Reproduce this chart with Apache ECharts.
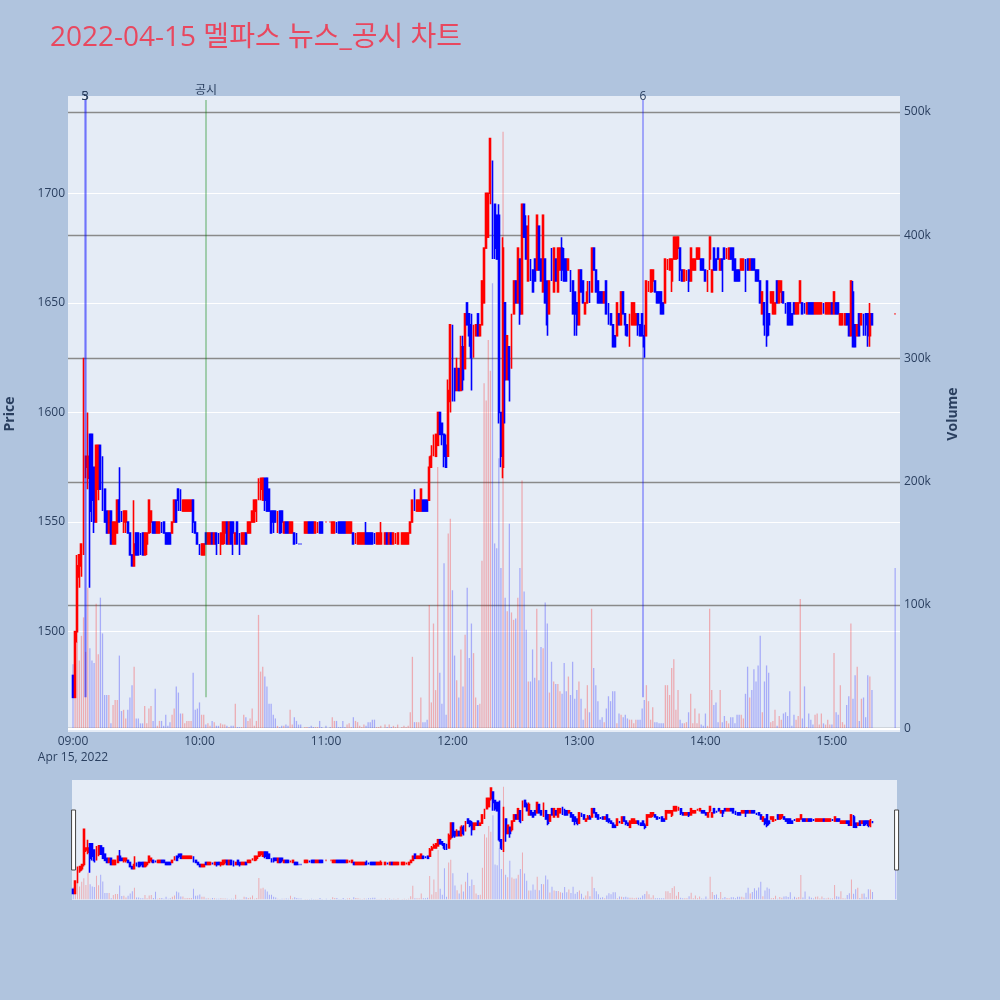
<!DOCTYPE html>
<html>
<head>
<meta charset="utf-8">
<script src="https://cdn.jsdelivr.net/npm/echarts@6/dist/echarts.min.js"></script>
<style>
  html, body { margin: 0; padding: 0; background: #b0c4de; }
  #chart { width: 1000px; height: 1000px; }
</style>
</head>
<body>
<div id="chart"></div>
<script>
// 1분봉 [09:00 기준 분, 시가, 종가, 저가, 고가, 거래량(천주)]
var bars0900 = [
  [0,1480,1470,1470,1480,52],[1,1470,1500,1470,1500,61],[2,1500,1530,1495,1535,70],[3,1525,1535,1520,1535,55],[4,1530,1540,1525,1540,75],
  [5,1540,1625,1535,1625,90],[6,1575,1580,1570,1580,62],[7,1570,1580,1565,1600,114],[8,1590,1555,1520,1590,65],[9,1590,1560,1550,1590,55],
  [10,1575,1550,1545,1575,53],[11,1550,1585,1550,1585,101],[12,1565,1585,1560,1585,60],[13,1585,1565,1565,1585,106],[14,1580,1555,1555,1580,77],
  [15,1565,1550,1550,1565,27],[16,1555,1545,1545,1555,27],[17,1545,1555,1545,1555,27],[18,1555,1540,1540,1555,4],[19,1540,1550,1540,1550,19],
  [20,1540,1550,1540,1550,23],[21,1545,1560,1545,1560,23],[22,1560,1550,1550,1575,59],[23,1555,1550,1550,1555,14],[24,1550,1555,1545,1555,15],
  [25,1550,1555,1545,1555,8],[26,1550,1545,1545,1550,15],[27,1545,1535,1535,1545,25],[28,1535,1530,1530,1535,35],[29,1530,1540,1530,1560,50],
  [30,1545,1535,1535,1545,8],[31,1545,1535,1535,1545,8],[32,1545,1540,1535,1545,4],[33,1545,1535,1535,1545,4],[34,1535,1545,1535,1545,18],
  [35,1540,1545,1535,1545,4],[36,1545,1560,1545,1560,16],[37,1550,1555,1545,1555,18],[38,1550,1545,1545,1550,6],[39,1550,1545,1545,1550,32],
  [40,1545,1550,1545,1550,2],[41,1545,1550,1545,1550,6],[42,1550,1545,1545,1550,6],[43,1550,1545,1545,1550,2],[44,1545,1540,1540,1545,11],
  [45,1545,1540,1540,1545,2],[46,1545,1540,1540,1545,5],[47,1545,1550,1545,1550,11],[48,1550,1560,1550,1560,16],[49,1560,1550,1550,1560,34],
  [50,1565,1560,1555,1565,29],[51,1565,1555,1555,1565,12],[52,1555,1560,1555,1560,12],[53,1555,1560,1555,1560,4],[54,1555,1560,1555,1560,6],
  [55,1555,1560,1555,1560,6],[56,1555,1560,1555,1560,6],[57,1560,1550,1545,1560,45],[58,1550,1545,1545,1550,15],[59,1545,1540,1540,1545,16]
];
var bars1000 = [
  [60,1540,1535,1535,1540,21],[61,1535,1540,1535,1540,11],[62,1535,1540,1535,1540,11],[63,1545,1540,1540,1545,3],[64,1540,1545,1540,1545,4],
  [65,1540,1545,1540,1545,2],[66,1545,1540,1540,1545,6],[67,1540,1545,1540,1545,5],[68,1545,1540,1535,1545,2],[69,1545,1540,1540,1545,2],
  [70,1540,1545,1535,1545,4],[71,1540,1550,1540,1550,3],[72,1545,1550,1540,1550,3],[73,1550,1540,1540,1550,2],[74,1540,1550,1540,1550,1],
  [75,1550,1540,1540,1550,2],[76,1550,1545,1535,1550,2],[77,1540,1545,1540,1545,20],[78,1550,1540,1540,1550,1],[79,1545,1540,1535,1545,1],
  [80,1540,1545,1540,1545,1],[81,1540,1545,1540,1545,11],[82,1545,1540,1540,1545,9],[83,1545,1550,1545,1550,6],[84,1545,1550,1545,1550,8],
  [85,1550,1555,1550,1555,16],[86,1550,1560,1550,1560,2],[87,1555,1560,1550,1560,6],[88,1560,1570,1560,1570,92],[89,1565,1570,1560,1570,46],
  [90,1560,1570,1560,1570,50],[91,1570,1560,1555,1570,42],[92,1570,1555,1555,1570,34],[93,1565,1555,1555,1565,20],[94,1555,1545,1545,1555,20],
  [95,1555,1550,1545,1555,11],[96,1555,1550,1550,1555,8],[97,1545,1555,1545,1555,2],[98,1555,1545,1545,1555,1],[99,1555,1550,1545,1555,2],
  [100,1545,1550,1545,1550,2],[101,1550,1545,1545,1550,3],[102,1550,1545,1545,1550,2],[103,1545,1550,1545,1550,15],[104,1545,1550,1545,1550,3],
  [105,1545,1540,1540,1545,9],[106,1545,1540,1540,1545,6],[107,1540,1540,1540,1540,3],[108,1540,1540,1540,1540,3],[110,1545,1550,1545,1550,1],
  [111,1545,1550,1545,1550,1],[112,1550,1545,1545,1550,1],[113,1550,1545,1545,1550,2],[114,1550,1545,1545,1550,1],[115,1545,1550,1545,1550,1],
  [116,1545,1550,1545,1550,1],[117,1550,1545,1545,1550,6],[118,1550,1545,1545,1550,1]
];
var bars1100 = [
  [120,1550,1550,1550,1550,2],[122,1550,1550,1550,1550,1],[123,1545,1550,1545,1550,9],[124,1545,1550,1545,1550,6],[125,1550,1545,1545,1550,6],
  [126,1550,1545,1545,1550,1],[127,1550,1545,1545,1550,1],[128,1550,1545,1545,1550,6],[129,1550,1545,1545,1550,1],[130,1545,1550,1545,1550,3],
  [131,1545,1550,1545,1550,4],[132,1545,1550,1545,1550,1],[133,1545,1540,1540,1545,9],[134,1540,1545,1540,1545,6],[135,1540,1545,1540,1545,5],
  [136,1540,1545,1540,1545,2],[137,1540,1545,1540,1545,1],[138,1540,1545,1540,1545,3],[139,1545,1540,1540,1550,2],[140,1545,1540,1540,1545,5],
  [141,1545,1540,1540,1545,5],[142,1545,1540,1540,1545,7],[143,1545,1540,1540,1545,7],[144,1540,1545,1540,1545,1],[145,1540,1545,1540,1545,1],
  [146,1540,1545,1540,1550,2],[148,1540,1545,1540,1545,3],[149,1545,1540,1540,1545,1],[150,1540,1545,1540,1545,3],[151,1545,1540,1540,1545,1],
  [152,1540,1545,1540,1545,2],[153,1540,1545,1540,1545,1],[154,1540,1545,1540,1545,3],[156,1540,1545,1540,1545,1],[157,1540,1545,1540,1545,2],
  [158,1540,1545,1540,1545,1],[159,1540,1545,1540,1545,2],[160,1545,1550,1545,1550,13],[161,1550,1560,1550,1560,58],[162,1565,1555,1555,1565,5],
  [163,1555,1560,1555,1560,5],[164,1555,1560,1555,1560,5],[165,1555,1565,1555,1565,25],[166,1560,1555,1555,1560,5],[167,1560,1555,1555,1560,5],
  [168,1560,1555,1555,1560,7],[169,1560,1575,1560,1580,100],[170,1575,1580,1575,1585,21],[171,1580,1585,1580,1590,85],[172,1580,1590,1580,1590,31],
  [173,1585,1600,1585,1600,212],[174,1600,1590,1590,1600,45],[175,1595,1590,1585,1595,20],[176,1590,1580,1575,1590,134],[177,1585,1575,1575,1590,11],
  [178,1580,1610,1580,1615,158],[179,1605,1640,1600,1640,170]
];
var bars1200 = [
  [180,1640,1610,1605,1640,112],[181,1620,1610,1605,1620,59],[182,1610,1620,1610,1625,39],[183,1620,1610,1610,1620,25],[184,1610,1630,1610,1635,64],
  [185,1630,1615,1610,1635,34],[186,1620,1645,1620,1645,76],[187,1650,1640,1640,1650,114],[188,1645,1635,1630,1645,57],[189,1640,1625,1610,1645,85],
  [190,1625,1640,1625,1640,61],[191,1635,1640,1635,1640,25],[192,1645,1635,1635,1645,19],[193,1635,1640,1635,1640,20],[194,1640,1660,1640,1660,136],
  [195,1650,1675,1650,1675,280],[196,1675,1700,1675,1700,266],[197,1680,1700,1680,1700,315],[198,1700,1725,1695,1725,290],[199,1715,1690,1670,1715,361],
  [200,1695,1675,1670,1695,150],[201,1690,1670,1670,1690,146],[202,1690,1600,1595,1695,219],[203,1600,1580,1575,1600,130],[204,1575,1675,1570,1680,484],
  [205,1650,1615,1595,1650,106],[206,1615,1635,1615,1635,95],[207,1630,1615,1605,1630,166],[208,1625,1645,1620,1645,94],[209,1645,1660,1645,1660,88],
  [210,1660,1650,1650,1660,89],[211,1650,1675,1650,1675,106],[212,1670,1645,1640,1670,130],[213,1645,1695,1645,1695,201],[214,1695,1680,1680,1695,111],
  [215,1685,1670,1670,1690,80],[216,1660,1685,1660,1690,38],[217,1670,1660,1660,1670,38],[218,1665,1655,1655,1665,64],[219,1670,1660,1660,1670,41],
  [220,1665,1690,1665,1690,97],[221,1685,1665,1665,1685,39],[222,1670,1660,1660,1670,66],[223,1655,1690,1655,1690,65],[224,1670,1650,1650,1670,102],
  [225,1660,1640,1635,1660,85],[226,1645,1660,1645,1660,29],[227,1675,1660,1660,1675,54],[228,1655,1675,1655,1675,38],[229,1670,1660,1660,1670,36],
  [230,1655,1675,1655,1675,36],[231,1665,1675,1665,1675,30],[232,1675,1665,1660,1680,28],[233,1670,1660,1660,1675,53],[234,1670,1660,1660,1670,30],
  [235,1665,1670,1665,1670,42],[236,1665,1655,1655,1665,27],[237,1660,1645,1645,1660,54],[238,1655,1645,1635,1655,24],[239,1650,1640,1635,1650,31]
];
var bars1300 = [
  [240,1640,1665,1640,1665,38],[241,1665,1655,1655,1665,24],[242,1660,1650,1650,1660,7],[243,1645,1650,1645,1650,16],[244,1650,1655,1650,1660,35],
  [245,1655,1650,1650,1660,13],[246,1655,1675,1655,1675,97],[247,1675,1665,1665,1675,49],[248,1665,1655,1655,1665,35],[249,1660,1650,1650,1660,22],
  [250,1655,1650,1650,1655,7],[251,1655,1650,1650,1655,9],[252,1650,1655,1650,1655,5],[253,1660,1645,1645,1660,16],[254,1650,1645,1640,1650,26],
  [255,1645,1640,1640,1645,22],[256,1640,1630,1630,1640,30],[257,1635,1630,1630,1635,30],[258,1635,1650,1635,1650,4],[259,1645,1640,1640,1645,12],
  [260,1640,1655,1640,1655,11],[261,1655,1645,1645,1655,9],[262,1645,1640,1635,1645,11],[263,1640,1635,1635,1640,8],[264,1630,1645,1630,1645,7],
  [265,1640,1650,1640,1650,7],[266,1640,1650,1640,1650,4],[267,1640,1645,1640,1645,7],[268,1645,1640,1635,1645,7],[269,1640,1635,1635,1640,7],
  [270,1645,1635,1635,1645,16],[271,1635,1630,1625,1640,23],[272,1635,1660,1635,1660,35],[273,1655,1660,1655,1660,22],[274,1655,1665,1655,1665,7],
  [275,1660,1665,1655,1665,17],[276,1660,1655,1655,1660,5],[277,1655,1650,1650,1655,5],[278,1655,1650,1650,1655,4],[279,1655,1645,1645,1655,4],
  [280,1650,1645,1645,1650,4],[281,1650,1670,1650,1670,35],[282,1665,1670,1665,1670,35],[283,1665,1670,1665,1670,27],[284,1660,1670,1655,1670,49],
  [285,1670,1680,1670,1680,56],[286,1670,1680,1670,1680,15],[287,1675,1680,1670,1680,31],[288,1675,1665,1660,1675,7],[289,1665,1660,1660,1665,4],
  [290,1660,1665,1660,1665,4],[291,1660,1665,1660,1665,5],[292,1665,1660,1655,1665,13],[293,1660,1675,1660,1675,28],[294,1665,1670,1665,1670,4],
  [295,1665,1670,1665,1670,16],[296,1670,1675,1670,1675,4],[297,1670,1675,1670,1675,12],[298,1670,1665,1665,1670,3],[299,1670,1665,1665,1670,2]
];
var bars1400 = [
  [300,1665,1660,1660,1665,12],[301,1655,1665,1655,1665,2],[302,1670,1680,1665,1680,97],[303,1655,1665,1655,1665,31],[304,1675,1665,1665,1675,19],
  [305,1670,1665,1665,1670,21],[306,1675,1670,1670,1675,5],[307,1665,1670,1665,1670,31],[308,1670,1665,1655,1670,5],[309,1675,1670,1670,1675,10],
  [310,1670,1675,1670,1675,6],[311,1670,1675,1670,1675,4],[312,1675,1670,1670,1675,9],[313,1675,1665,1665,1675,9],[314,1670,1660,1660,1670,4],
  [315,1665,1660,1660,1665,11],[316,1665,1660,1660,1665,11],[317,1665,1670,1665,1670,11],[318,1665,1670,1665,1670,8],[319,1670,1665,1655,1670,28],
  [320,1670,1665,1665,1670,50],[321,1665,1670,1665,1670,25],[322,1670,1665,1665,1670,31],[323,1670,1665,1665,1670,48],[324,1665,1660,1660,1665,38],
  [325,1665,1660,1660,1665,51],[326,1660,1650,1650,1660,75],[327,1645,1655,1645,1655,13],[328,1650,1640,1635,1650,38],[329,1660,1635,1630,1660,51],
  [330,1645,1640,1635,1645,45],[331,1650,1655,1650,1655,5],[332,1645,1655,1645,1655,6],[333,1645,1650,1645,1650,15],[334,1660,1650,1650,1660,2],
  [335,1650,1660,1650,1660,10],[336,1655,1660,1650,1660,7],[337,1655,1650,1650,1655,12],[338,1650,1645,1645,1650,13],[339,1650,1640,1640,1650,10],
  [340,1650,1640,1640,1650,30],[341,1645,1640,1640,1645,2],[342,1650,1645,1645,1650,11],[343,1645,1650,1645,1650,7],[344,1645,1650,1645,1650,10],
  [345,1650,1660,1650,1660,105],[346,1650,1645,1645,1650,8],[347,1650,1645,1645,1650,34],[348,1645,1650,1645,1650,1],[349,1650,1645,1645,1650,12],
  [350,1650,1645,1645,1650,7],[351,1650,1645,1645,1650,3],[352,1645,1650,1645,1650,11],[353,1645,1650,1645,1650,12],[354,1645,1650,1645,1650,3],
  [355,1645,1650,1645,1650,12],[356,1650,1645,1645,1650,4],[357,1645,1650,1645,1650,3],[358,1645,1650,1645,1650,7],[359,1645,1650,1645,1650,3]
];
var bars1500 = [
  [360,1650,1645,1645,1650,3],[361,1645,1655,1645,1655,61],[362,1650,1645,1645,1650,13],[363,1650,1645,1645,1650,11],[364,1640,1645,1640,1645,35],
  [365,1640,1645,1640,1645,5],[366,1640,1645,1640,1645,3],[367,1645,1640,1640,1645,19],[368,1645,1635,1635,1645,26],[369,1635,1660,1635,1660,85],
  [370,1655,1630,1630,1660,24],[371,1640,1630,1630,1640,43],[372,1635,1640,1635,1640,50],[373,1645,1635,1635,1645,6],[374,1640,1645,1640,1645,24],
  [375,1645,1635,1635,1645,25],[376,1645,1640,1635,1645,9],[377,1645,1635,1630,1645,43],[378,1635,1645,1630,1650,42],[379,1645,1640,1640,1645,31],
  [390,1645,1645,1645,1645,130]
];

var timeTicks = [0, 60, 120, 180, 240, 300, 360];
var priceTicks = [1500, 1550, 1600, 1650, 1700];
var volumeTicks = [0, 100000, 200000, 300000, 400000, 500000];

// 뉴스 / 공시 시각 (09:00 기준 분)
var newsMinutes = [5.5, 5.9, 270.4];
var newsLabels = ['5', '3', '6'];
var noticeMinutes = [63.1];
var noticeLabels = ['공시'];

var FONT = '"Open Sans", "Noto Sans CJK KR", sans-serif';
var INK = '#2a3f5f';
var UP = '#ff0000', DOWN = '#0000ff';

var bars = bars0900.concat(bars1000, bars1100, bars1200, bars1300, bars1400, bars1500);

// 시가=종가면 직전 종가와 비교, 같으면 이전 방향 유지
var candleData = [], volumeData = [];
var rising = true, prevClose = null;
bars.forEach(function (b) {
  var o = b[1], c = b[2];
  if (c !== o) rising = c > o;
  else if (prevClose !== null && c !== prevClose) rising = c > prevClose;
  prevClose = c;
  var col = rising ? UP : DOWN;
  candleData.push({
    value: [b[0], o, c, b[3], b[4]],
    itemStyle: { color: col, color0: col, borderColor: col, borderColor0: col, borderColorDoji: col }
  });
  volumeData.push({
    value: [b[0], b[5] * 1000],
    itemStyle: { color: c > o ? 'rgba(255,0,0,0.27)' : 'rgba(0,0,255,0.27)' }
  });
});

function pad(n) { return (n < 10 ? '0' : '') + n; }

var markLines = [];
newsMinutes.forEach(function (m, i) {
  markLines.push([
    { coord: [m, 1470], name: newsLabels[i],
      lineStyle: { color: 'rgba(0,0,255,0.3)', width: 2, type: 'solid' },
      label: { distance: -3 } },
    { coord: [m, 1742.6] }
  ]);
});
noticeMinutes.forEach(function (m, i) {
  markLines.push([
    { coord: [m, 1470], name: noticeLabels[i],
      lineStyle: { color: 'rgba(0,128,0,0.3)', width: 2, type: 'solid' },
      label: { distance: 3 } },
    { coord: [m, 1742.6] }
  ]);
});

var chart = echarts.init(document.getElementById('chart'));

var option = {
  animation: false,
  backgroundColor: '#b0c4de',
  textStyle: { fontFamily: FONT },
  title: {
    text: '2022-04-15 멜파스 뉴스_공시 차트',
    left: 50,
    top: 24,
    padding: 0,
    textStyle: { color: '#e8485f', fontSize: 28, fontWeight: 'normal', fontFamily: FONT }
  },
  grid: [
    { left: 68, right: 100, top: 96, bottom: 268, show: true, backgroundColor: '#e5ecf6', borderWidth: 0, containLabel: false, outerBoundsMode: 'none' },
    { left: 72, right: 103, top: 780, height: 120, show: true, backgroundColor: '#e5ecf6', borderWidth: 0, containLabel: false, outerBoundsMode: 'none' }
  ],
  xAxis: [
    {
      type: 'value', gridIndex: 0, min: -2.37, max: 392.3,
      axisLine: { show: false }, axisTick: { show: false }, splitLine: { show: false },
      axisLabel: {
        customValues: timeTicks,
        color: INK, fontSize: 12, margin: 2, lineHeight: 16, fontFamily: FONT,
        formatter: function (v) {
          var s = pad(9 + Math.floor(v / 60)) + ':' + pad(v % 60);
          return v === 0 ? s + '\nApr 15, 2022' : s;
        }
      }
    },
    { type: 'value', gridIndex: 1, min: -0.6, max: 390.6, show: false }
  ],
  yAxis: [
    {
      type: 'value', gridIndex: 0, position: 'left', min: 1454.2, max: 1744.4,
      name: 'Price', nameLocation: 'middle', nameRotate: 90, nameGap: 51,
      nameTextStyle: { color: INK, fontSize: 14, fontWeight: 'bold', fontFamily: FONT },
      axisLine: { show: false }, axisTick: { show: false },
      axisLabel: {
        customValues: priceTicks, color: INK, fontSize: 12, margin: 3, fontFamily: FONT,
        formatter: function (v) { return String(v); }
      },
      splitLine: { show: true, showMinLine: false, showMaxLine: false, lineStyle: { color: '#ffffff', width: 1 } }
    },
    {
      type: 'value', gridIndex: 0, position: 'right', min: -3000, max: 513000,
      name: 'Volume', nameLocation: 'middle', nameRotate: 90, nameGap: 46,
      nameTextStyle: { color: INK, fontSize: 14, fontWeight: 'bold', fontFamily: FONT },
      axisLine: { show: false }, axisTick: { show: false },
      axisLabel: {
        customValues: volumeTicks, color: INK, fontSize: 12, margin: 4, fontFamily: FONT,
        formatter: function (v) { return v === 0 ? '0' : (v / 1000) + 'k'; }
      },
      splitLine: { show: true, showMinLine: false, showMaxLine: false, lineStyle: { color: '#8a8a8a', width: 1.3 } }
    },
    { type: 'value', gridIndex: 1, min: 1454.2, max: 1744.4, show: false },
    { type: 'value', gridIndex: 1, min: -3000, max: 513000, show: false }
  ],
  dataZoom: [{
    type: 'slider', xAxisIndex: [0], filterMode: 'none', start: 0, end: 100,
    left: 72, right: 103, top: 780, height: 120,
    showDataShadow: false, showDetail: false, brushSelect: false,
    backgroundColor: 'rgba(0,0,0,0)', borderColor: 'rgba(0,0,0,0)', fillerColor: 'rgba(0,0,0,0)',
    handleIcon: 'path://M0,0H4V60H0Z', handleSize: '50%',
    handleStyle: { color: '#ffffff', borderColor: '#444444', borderWidth: 1 },
    moveHandleSize: 0, moveHandleStyle: { opacity: 0 }
  }],
  series: [
    {
      name: 'Volume', type: 'bar', xAxisIndex: 0, yAxisIndex: 1, z: 1,
      barWidth: 1.3, data: volumeData,
      markLine: {
        silent: true, symbol: 'none', label: { show: false },
        lineStyle: { color: '#ffffff', width: 2, type: 'solid' },
        data: [{ yAxis: 0 }]
      }
    },
    {
      name: 'Price', type: 'candlestick', xAxisIndex: 0, yAxisIndex: 0, z: 2,
      barWidth: 1.4, data: candleData,
      itemStyle: { borderWidth: 1.6 },
      markLine: {
        silent: true, symbol: 'none', z: 5,
        label: { show: true, position: 'end', formatter: '{b}', color: INK, fontSize: 12, fontFamily: FONT },
        data: markLines
      }
    },
    {
      type: 'bar', xAxisIndex: 1, yAxisIndex: 3, z: 1, silent: true,
      barWidth: 1, data: volumeData
    },
    {
      type: 'candlestick', xAxisIndex: 1, yAxisIndex: 2, z: 2, silent: true,
      barWidth: 1.4, data: candleData, itemStyle: { borderWidth: 1.6 }
    }
  ]
};

chart.setOption(option);
</script>
</body>
</html>
